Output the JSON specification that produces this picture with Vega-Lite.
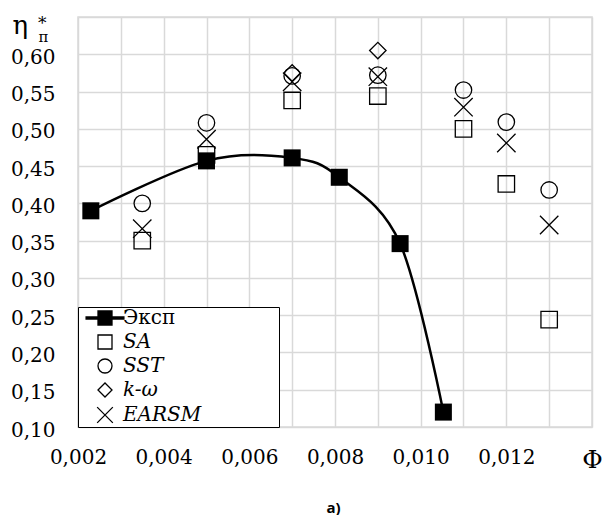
{
  "$schema": "https://vega.github.io/schema/vega-lite/v6.json",
  "width": 514,
  "height": 410,
  "autosize": {"type": "none"},
  "padding": {"left": 78, "top": 17, "right": 14, "bottom": 88},
  "background": "white",
  "title": {
    "text": "*",
    "anchor": "start",
    "frame": "group",
    "orient": "top",
    "offset": 0,
    "dx": -40,
    "dy": 34,
    "baseline": "alphabetic",
    "font": "DejaVu Serif",
    "fontSize": 17,
    "fontWeight": "normal",
    "color": "black"
  },
  "config": {
    "view": {"stroke": "#d9d9d9", "strokeWidth": 1.5}
  },
  "data": {
    "values": [
      {"series": "SA", "x": 0.0035, "y": 0.350},
      {"series": "SA", "x": 0.005, "y": 0.465},
      {"series": "SA", "x": 0.007, "y": 0.538},
      {"series": "SA", "x": 0.009, "y": 0.544},
      {"series": "SA", "x": 0.011, "y": 0.500},
      {"series": "SA", "x": 0.012, "y": 0.426},
      {"series": "SA", "x": 0.013, "y": 0.244},
      {"series": "SST", "x": 0.0035, "y": 0.400},
      {"series": "SST", "x": 0.005, "y": 0.508},
      {"series": "SST", "x": 0.007, "y": 0.571},
      {"series": "SST", "x": 0.009, "y": 0.572},
      {"series": "SST", "x": 0.011, "y": 0.552},
      {"series": "SST", "x": 0.012, "y": 0.509},
      {"series": "SST", "x": 0.013, "y": 0.418},
      {"series": "k-ω", "x": 0.007, "y": 0.575},
      {"series": "k-ω", "x": 0.009, "y": 0.605},
      {"series": "EARSM", "x": 0.0035, "y": 0.366},
      {"series": "EARSM", "x": 0.005, "y": 0.486},
      {"series": "EARSM", "x": 0.007, "y": 0.563},
      {"series": "EARSM", "x": 0.009, "y": 0.570},
      {"series": "EARSM", "x": 0.011, "y": 0.529},
      {"series": "EARSM", "x": 0.012, "y": 0.481},
      {"series": "EARSM", "x": 0.013, "y": 0.371},
      {"series": "Эксп", "x": 0.0023, "y": 0.390},
      {"series": "Эксп", "x": 0.005, "y": 0.457},
      {"series": "Эксп", "x": 0.007, "y": 0.461},
      {"series": "Эксп", "x": 0.0081, "y": 0.435},
      {"series": "Эксп", "x": 0.00952, "y": 0.346},
      {"series": "Эксп", "x": 0.01053, "y": 0.120}
    ]
  },
  "encoding": {
    "x": {
      "field": "x",
      "type": "quantitative",
      "scale": {"domain": [0.002, 0.014], "nice": false, "zero": false},
      "axis": {
        "values": [0.002, 0.003, 0.004, 0.005, 0.006, 0.007, 0.008, 0.009, 0.010, 0.011, 0.012, 0.013, 0.014],
        "grid": true,
        "gridColor": "#d9d9d9",
        "gridWidth": 1.5,
        "domain": false,
        "ticks": false,
        "labelExpr": "round(datum.value*1000) == 14 ? 'Φ' : (round(datum.value*1000) % 2 == 0 ? replace(format(datum.value, '.3f'), '.', ',') : '')",
        "labelFont": "DejaVu Serif",
        "labelFontSize": {"condition": {"test": "datum.value > 0.0135", "value": 25}, "value": 20},
        "labelColor": "black",
        "labelPadding": 20,
        "labelFlush": false,
        "labelOverlap": false,
        "labelBound": false,
        "title": "a)",
        "titleFont": "Open Sans",
        "titleFontWeight": "bold",
        "titleFontSize": 15,
        "titleColor": "black",
        "titleX": 255,
        "titleY": 80,
        "titleBaseline": "middle"
      }
    },
    "y": {
      "field": "y",
      "type": "quantitative",
      "scale": {"domain": [0.1, 0.65], "nice": false, "zero": false},
      "axis": {
        "values": [0.1, 0.15, 0.2, 0.25, 0.3, 0.35, 0.4, 0.45, 0.5, 0.55, 0.6, 0.65],
        "grid": true,
        "gridColor": "#d9d9d9",
        "gridWidth": 1.5,
        "domain": false,
        "ticks": false,
        "labelExpr": "datum.value > 0.64 ? 'п' : replace(format(datum.value, '.2f'), '.', ',')",
        "labelFont": "DejaVu Serif",
        "labelFontSize": {"condition": {"test": "datum.value > 0.64", "value": 15}, "value": 20},
        "labelPadding": {"condition": {"test": "datum.value > 0.64", "value": 30}, "value": 23},
        "labelOffset": {"condition": {"test": "datum.value > 0.64", "value": 19}, "value": 3},
        "labelColor": "black",
        "labelOverlap": false,
        "labelBound": false,
        "title": "η",
        "titleAngle": 0,
        "titleX": -66,
        "titleY": 16,
        "titleAlign": "left",
        "titleBaseline": "alphabetic",
        "titleFont": "DejaVu Serif",
        "titleFontSize": 26,
        "titleFontWeight": "normal",
        "titleColor": "black"
      }
    }
  },
  "layer": [
    {
      "transform": [{"filter": "datum.series == 'Эксп'"}],
      "mark": {"type": "line", "interpolate": "cardinal", "color": "black", "strokeWidth": 2.5},
      "encoding": {"order": {"field": "x", "type": "quantitative"}}
    },
    {
      "transform": [{"filter": "datum.series != 'Эксп'"}],
      "mark": {"type": "point", "filled": false, "strokeWidth": 1.3, "size": 270, "opacity": 1},
      "encoding": {
        "shape": {
          "field": "series",
          "type": "nominal",
          "scale": {
            "domain": ["Эксп", "SA", "SST", "k-ω", "EARSM"],
            "range": ["M-2.7,-0.16H2.7V0.16H-2.7Z M-1,-1H1V1H-1Z", "square", "circle", "diamond", "M-1.12,-1.12L1.12,1.12M-1.12,1.12L1.12,-1.12"]
          },
          "legend": {
            "title": null,
            "orient": "bottom-left",
            "offset": 0,
            "strokeColor": "black",
            "fillColor": "white",
            "padding": 1,
            "cornerRadius": 0,
            "symbolOffset": 16,
            "labelOffset": 8,
            "rowPadding": 4,
            "symbolSize": 196,
            "symbolStrokeWidth": 1.3,
            "labelFont": "DejaVu Serif",
            "labelFontSize": 20,
            "labelColor": "black",
            "labelLimit": 400,
            "labelFontStyle": {"expr": "datum.value == 'Эксп' ? 'normal' : 'italic'"},
            "labelExpr": "datum.label + '\u00a0\u00a0\u00a0\u00a0\u00a0\u00a0\u00a0\u00a0\u00a0\u00a0\u00a0\u00a0\u200b'"
          }
        },
        "fill": {
          "field": "series",
          "type": "nominal",
          "scale": {
            "domain": ["Эксп", "SA", "SST", "k-ω", "EARSM"],
            "range": ["black", "transparent", "transparent", "transparent", "transparent"]
          },
          "legend": {
            "title": null,
            "orient": "bottom-left",
            "offset": 0,
            "strokeColor": "black",
            "fillColor": "white",
            "padding": 1,
            "cornerRadius": 0,
            "symbolOffset": 16,
            "labelOffset": 8,
            "rowPadding": 4,
            "symbolSize": 196,
            "symbolStrokeWidth": 1.3,
            "labelFont": "DejaVu Serif",
            "labelFontSize": 20,
            "labelColor": "black",
            "labelLimit": 400,
            "labelFontStyle": {"expr": "datum.value == 'Эксп' ? 'normal' : 'italic'"},
            "labelExpr": "datum.label + '\u00a0\u00a0\u00a0\u00a0\u00a0\u00a0\u00a0\u00a0\u00a0\u00a0\u00a0\u00a0\u200b'"
          }
        },
        "stroke": {
          "field": "series",
          "type": "nominal",
          "scale": {
            "domain": ["Эксп", "SA", "SST", "k-ω", "EARSM"],
            "range": ["black", "black", "black", "black", "black"]
          },
          "legend": {
            "title": null,
            "orient": "bottom-left",
            "offset": 0,
            "strokeColor": "black",
            "fillColor": "white",
            "padding": 1,
            "cornerRadius": 0,
            "symbolOffset": 16,
            "labelOffset": 8,
            "rowPadding": 4,
            "symbolSize": 196,
            "symbolStrokeWidth": 1.3,
            "labelFont": "DejaVu Serif",
            "labelFontSize": 20,
            "labelColor": "black",
            "labelLimit": 400,
            "labelFontStyle": {"expr": "datum.value == 'Эксп' ? 'normal' : 'italic'"},
            "labelExpr": "datum.label + '\u00a0\u00a0\u00a0\u00a0\u00a0\u00a0\u00a0\u00a0\u00a0\u00a0\u00a0\u00a0\u200b'"
          }
        }
      }
    },
    {
      "transform": [{"filter": "datum.series == 'Эксп'"}],
      "mark": {"type": "point", "shape": "square", "filled": true, "color": "black", "size": 290, "opacity": 1}
    }
  ]
}
